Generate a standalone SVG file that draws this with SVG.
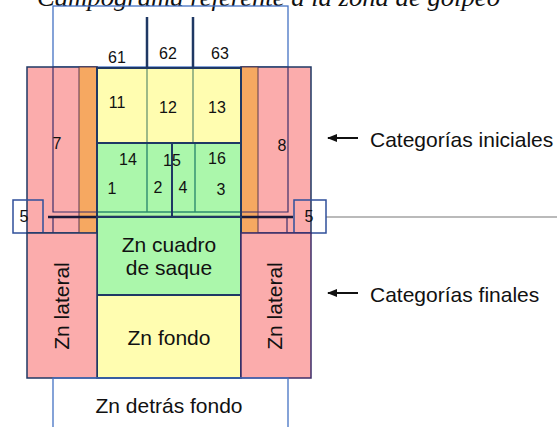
<svg xmlns="http://www.w3.org/2000/svg" width="560" height="427" viewBox="0 0 560 427">
<style>
.num{font-family:"Liberation Sans",Arial,sans-serif;font-size:16px;fill:#111;text-anchor:middle}
.zn{font-family:"Liberation Sans",Arial,sans-serif;font-size:21px;fill:#111;text-anchor:middle}
.cat{font-family:"Liberation Sans",Arial,sans-serif;font-size:21px;fill:#111}
.title{font-family:"Liberation Serif","Times New Roman",serif;font-style:italic;font-size:26px;fill:#111}
.pink{fill:#FBACAC}
.orange{fill:#F6A861;stroke:#5a3a50;stroke-width:1}
.yellow{fill:#FFFDB0}
.green{fill:#ABF7AB}
.navy{fill:none;stroke:#1F3864;stroke-width:2}
.thinblue{fill:none;stroke:#4472C4;stroke-width:1.3}
.purple{fill:none;stroke:#3c2e6a;stroke-width:1.2}
.div{stroke:#5d8c6c;stroke-width:1.2}
.teal{stroke:#2e8b6e;stroke-width:1.4}
</style>
<defs>
<marker id="ah" markerWidth="10" markerHeight="8" refX="1" refY="4" orient="auto" markerUnits="userSpaceOnUse">
<path d="M10,0 L0,4 L10,8 Z" fill="#111"/>
</marker>
</defs>
<rect width="560" height="427" fill="#fff"/>
<text class="title" x="37" y="6" textLength="463" lengthAdjust="spacingAndGlyphs">Campograma referente a la zona de golpeo</text>

<g id="zona-6">
<rect class="thinblue" x="53" y="6" width="235" height="61" fill="#fff"/>
<line x1="147" y1="17" x2="147" y2="67" stroke="#1F3864" stroke-width="2.5"/>
<line x1="193" y1="17" x2="193" y2="67" stroke="#1F3864" stroke-width="2.5"/>
<text class="num" x="117" y="63">61</text>
<text class="num" x="168" y="59">62</text>
<text class="num" x="220" y="59">63</text>
</g>

<g id="zona-lateral-superior">
<rect class="pink" x="27" y="67" width="70" height="166" stroke="#1F3864" stroke-width="1.5"/>
<rect class="pink" x="241" y="67" width="70" height="166" stroke="#1F3864" stroke-width="1.5"/>
<rect class="orange" x="79" y="67" width="18" height="166"/>
<rect class="orange" x="241" y="67" width="17" height="166"/>
</g>

<g id="zona-7">
<path class="purple" d="M53,67 V212 H97"/>
<line class="purple" x1="53" y1="218" x2="53" y2="233"/>
<text class="num" x="57" y="149">7</text>
</g>
<g id="zona-8">
<path class="purple" d="M288,67 V212 H241"/>
<line class="purple" x1="287" y1="218" x2="287" y2="233"/>
<text class="num" x="282" y="151">8</text>
</g>

<g id="zonas-11-13">
<rect class="yellow" x="97" y="68" width="144" height="75"/>
<line class="div" x1="147" y1="68" x2="147" y2="143"/>
<line class="div" x1="193" y1="68" x2="193" y2="143"/>
<rect class="navy" x="97" y="68" width="144" height="75"/>
<text class="num" x="117" y="108">11</text>
<text class="num" x="168" y="113">12</text>
<text class="num" x="217" y="113">13</text>
</g>

<g id="zonas-14-16">
<rect class="green" x="97" y="143" width="144" height="74"/>
<line class="teal" x1="147" y1="143" x2="147" y2="212"/>
<line class="teal" x1="195" y1="143" x2="195" y2="212"/>
<line class="teal" x1="97" y1="212" x2="241" y2="212"/>
<line x1="172" y1="143" x2="172" y2="217" stroke="#1F3864" stroke-width="2"/>
<line x1="97" y1="143" x2="241" y2="143" stroke="#1F3864" stroke-width="2"/>
<line x1="97" y1="143" x2="97" y2="217" stroke="#1F3864" stroke-width="2"/>
<line x1="241" y1="143" x2="241" y2="217" stroke="#1F3864" stroke-width="2"/>
<text class="num" x="128" y="165">14</text>
<text class="num" x="172" y="166">15</text>
<text class="num" x="217" y="164">16</text>
<text class="num" x="112" y="194">1</text>
<text class="num" x="158" y="193">2</text>
<text class="num" x="183" y="193">4</text>
<text class="num" x="221" y="195">3</text>
</g>

<g id="red">
<line x1="48" y1="217" x2="293" y2="217" stroke="#1a1a3a" stroke-width="2.5"/>
<line x1="326" y1="217" x2="557" y2="217" stroke="#777" stroke-width="1.2"/>
</g>

<g id="zona-5-izq">
<rect x="13" y="200" width="30" height="33" fill="none" stroke="#2f4f9a" stroke-width="1.5"/>
<text class="num" x="24" y="222">5</text>
</g>
<g id="zona-5-der">
<rect x="294" y="200" width="32" height="33" fill="none" stroke="#2f4f9a" stroke-width="1.5"/>
<text class="num" x="309" y="222">5</text>
</g>

<g id="zn-cuadro-saque">
<rect class="green" x="97" y="217" width="144" height="78"/>
<rect class="navy" x="97" y="217" width="144" height="78"/>
<text class="zn" x="169" y="252">Zn cuadro</text>
<text class="zn" x="169" y="275">de saque</text>
</g>

<g id="zn-fondo">
<rect class="yellow" x="97" y="295" width="144" height="83"/>
<rect class="navy" x="97" y="295" width="144" height="83"/>
<text class="zn" x="169" y="345">Zn fondo</text>
</g>

<g id="zn-lateral-izq">
<rect class="pink" x="27" y="233" width="70" height="145" stroke="#1F3864" stroke-width="1.5"/>
<text class="zn" transform="translate(69,306) rotate(-90)">Zn lateral</text>
</g>
<g id="zn-lateral-der">
<rect class="pink" x="241" y="233" width="70" height="145" stroke="#3c2e6a" stroke-width="1.5"/>
<text class="zn" transform="translate(282,306) rotate(-90)">Zn lateral</text>
</g>

<g id="zn-detras-fondo">
<rect class="thinblue" x="53" y="378" width="235" height="60" fill="#fff"/>
<text class="zn" x="169" y="413">Zn detrás fondo</text>
</g>

<g id="connectors">
<line x1="328" y1="138" x2="358" y2="138" stroke="#111" stroke-width="2" marker-start="url(#ah)"/>
<line x1="328" y1="293" x2="358" y2="293" stroke="#111" stroke-width="2" marker-start="url(#ah)"/>
</g>
<g id="leyenda">
<text class="cat" x="370" y="147">Categorías iniciales</text>
<text class="cat" x="370" y="302">Categorías finales</text>
</g>
</svg>
